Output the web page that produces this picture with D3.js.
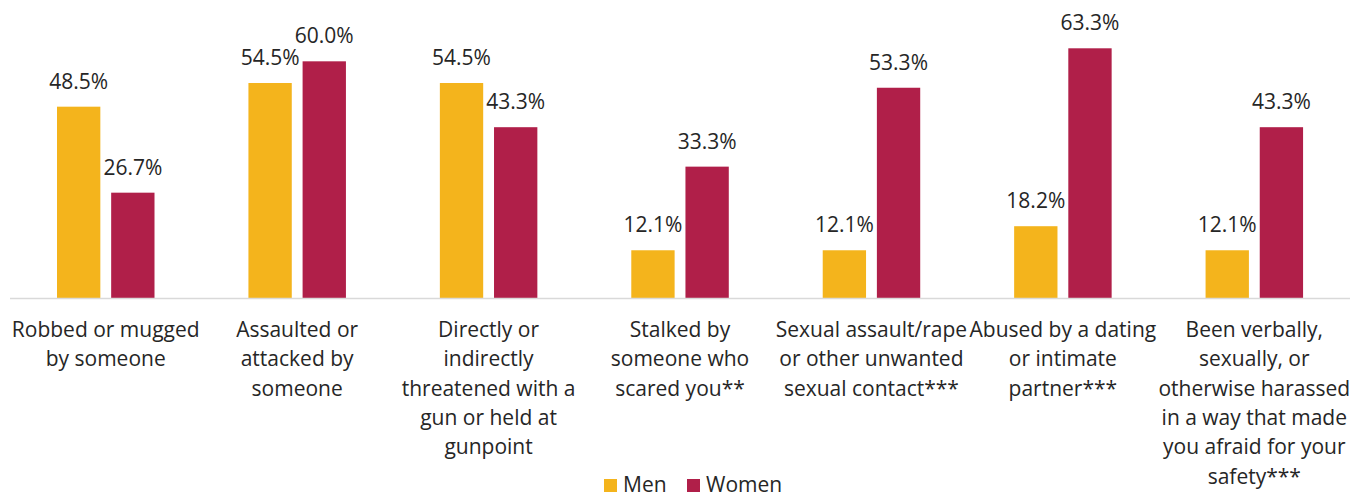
<!DOCTYPE html>
<html lang="en">
<head>
<meta charset="UTF-8">
<title>victimization-by-gender</title>
<script src="https://cdn.jsdelivr.net/npm/d3@7"></script>
<style>
    body { margin: 0; background: #fff; }
    svg text { font-family: "Open Sans", Lato, sans-serif; fill: #262626; }
</style>
</head>
<body>
<svg class="chart"></svg>
<script>
    // chart data
    var categories = [
        ["Robbed or mugged", "by someone"],
        ["Assaulted or", "attacked by", "someone"],
        ["Directly or", "indirectly", "threatened with a", "gun or held at", "gunpoint"],
        ["Stalked by", "someone who", "scared you**"],
        ["Sexual assault/rape", "or other unwanted", "sexual contact***"],
        ["Abused by a dating", "or intimate", "partner***"],
        ["Been verbally,", "sexually, or", "otherwise harassed", "in a way that made", "you afraid for your", "safety***"]
    ];
    var seriesNames = ["Men", "Women"];
    var menValues = [48.5, 54.5, 54.5, 12.1, 12.1, 18.2, 12.1];
    var womenValues = [26.7, 60.0, 43.3, 33.3, 53.3, 63.3, 43.3];
    var colors = ["#F4B41C", "#B01F49"];

    var width = 1361, height = 496;
    var fontSize = "21px";
    var svg = d3.select(".chart").attr("width", width).attr("height", height);

    var x = d3.scaleBand()
        .domain(d3.range(categories.length))
        .range([10, 1350]);

    var sub = d3.scaleBand()
        .domain(seriesNames)
        .range([47, 144.5])
        .paddingInner(0.2);

    var y = d3.scaleLinear()
        .domain([0, 63.3])
        .range([298, 48.3]);

    var rows = categories.map(function (c, i) {
        return { i: i, values: [menValues[i], womenValues[i]] };
    });

    var groups = svg.append("g").selectAll("g")
        .data(rows)
        .enter().append("g")
        .attr("transform", function (d) { return "translate(" + x(d.i) + ",0)"; });

    groups.selectAll("rect")
        .data(function (d) { return d.values.map(function (v, k) { return { k: k, v: v }; }); })
        .enter().append("rect")
        .attr("x", function (d) { return sub(seriesNames[d.k]); })
        .attr("width", sub.bandwidth())
        .attr("y", function (d) { return y(d.v); })
        .attr("height", function (d) { return y(0) - y(d.v); })
        .attr("fill", function (d) { return colors[d.k]; });

    groups.selectAll("text.val")
        .data(function (d) { return d.values.map(function (v, k) { return { k: k, v: v }; }); })
        .enter().append("text")
        .attr("class", "val")
        .attr("x", function (d) { return sub(seriesNames[d.k]) + sub.bandwidth() / 2; })
        .attr("y", function (d) { return y(d.v) - 18; })
        .attr("text-anchor", "middle")
        .style("font-size", fontSize)
        .text(function (d) { return d.v.toFixed(1) + "%"; });

    // baseline
    svg.append("line")
        .attr("x1", 10).attr("x2", 1350)
        .attr("y1", y(0) + 0.5).attr("y2", y(0) + 0.5)
        .attr("stroke", "#D9D9D9")
        .attr("stroke-width", 1.5);

    // category labels
    var labels = svg.append("g").selectAll("text")
        .data(categories)
        .enter().append("text")
        .attr("text-anchor", "middle")
        .style("font-size", fontSize)
        .attr("x", function (d, i) { return x(i) + x.bandwidth() / 2; })
        .attr("y", 337);

    labels.selectAll("tspan")
        .data(function (d) { return d; })
        .enter().append("tspan")
        .attr("x", function () { return d3.select(this.parentNode).attr("x"); })
        .attr("dy", function (d, j) { return j === 0 ? 0 : 29.3; })
        .text(function (d) { return d; });

    // legend
    var legendX = [604, 687];
    var legend = svg.append("g").selectAll("g")
        .data(seriesNames)
        .enter().append("g")
        .attr("transform", function (d, i) { return "translate(" + legendX[i] + ",479)"; });

    legend.append("rect")
        .attr("width", 13).attr("height", 13)
        .attr("fill", function (d, i) { return colors[i]; });

    legend.append("text")
        .attr("x", 19).attr("y", 12.5)
        .style("font-size", fontSize)
        .text(function (d) { return d; });
</script>
</body>
</html>
